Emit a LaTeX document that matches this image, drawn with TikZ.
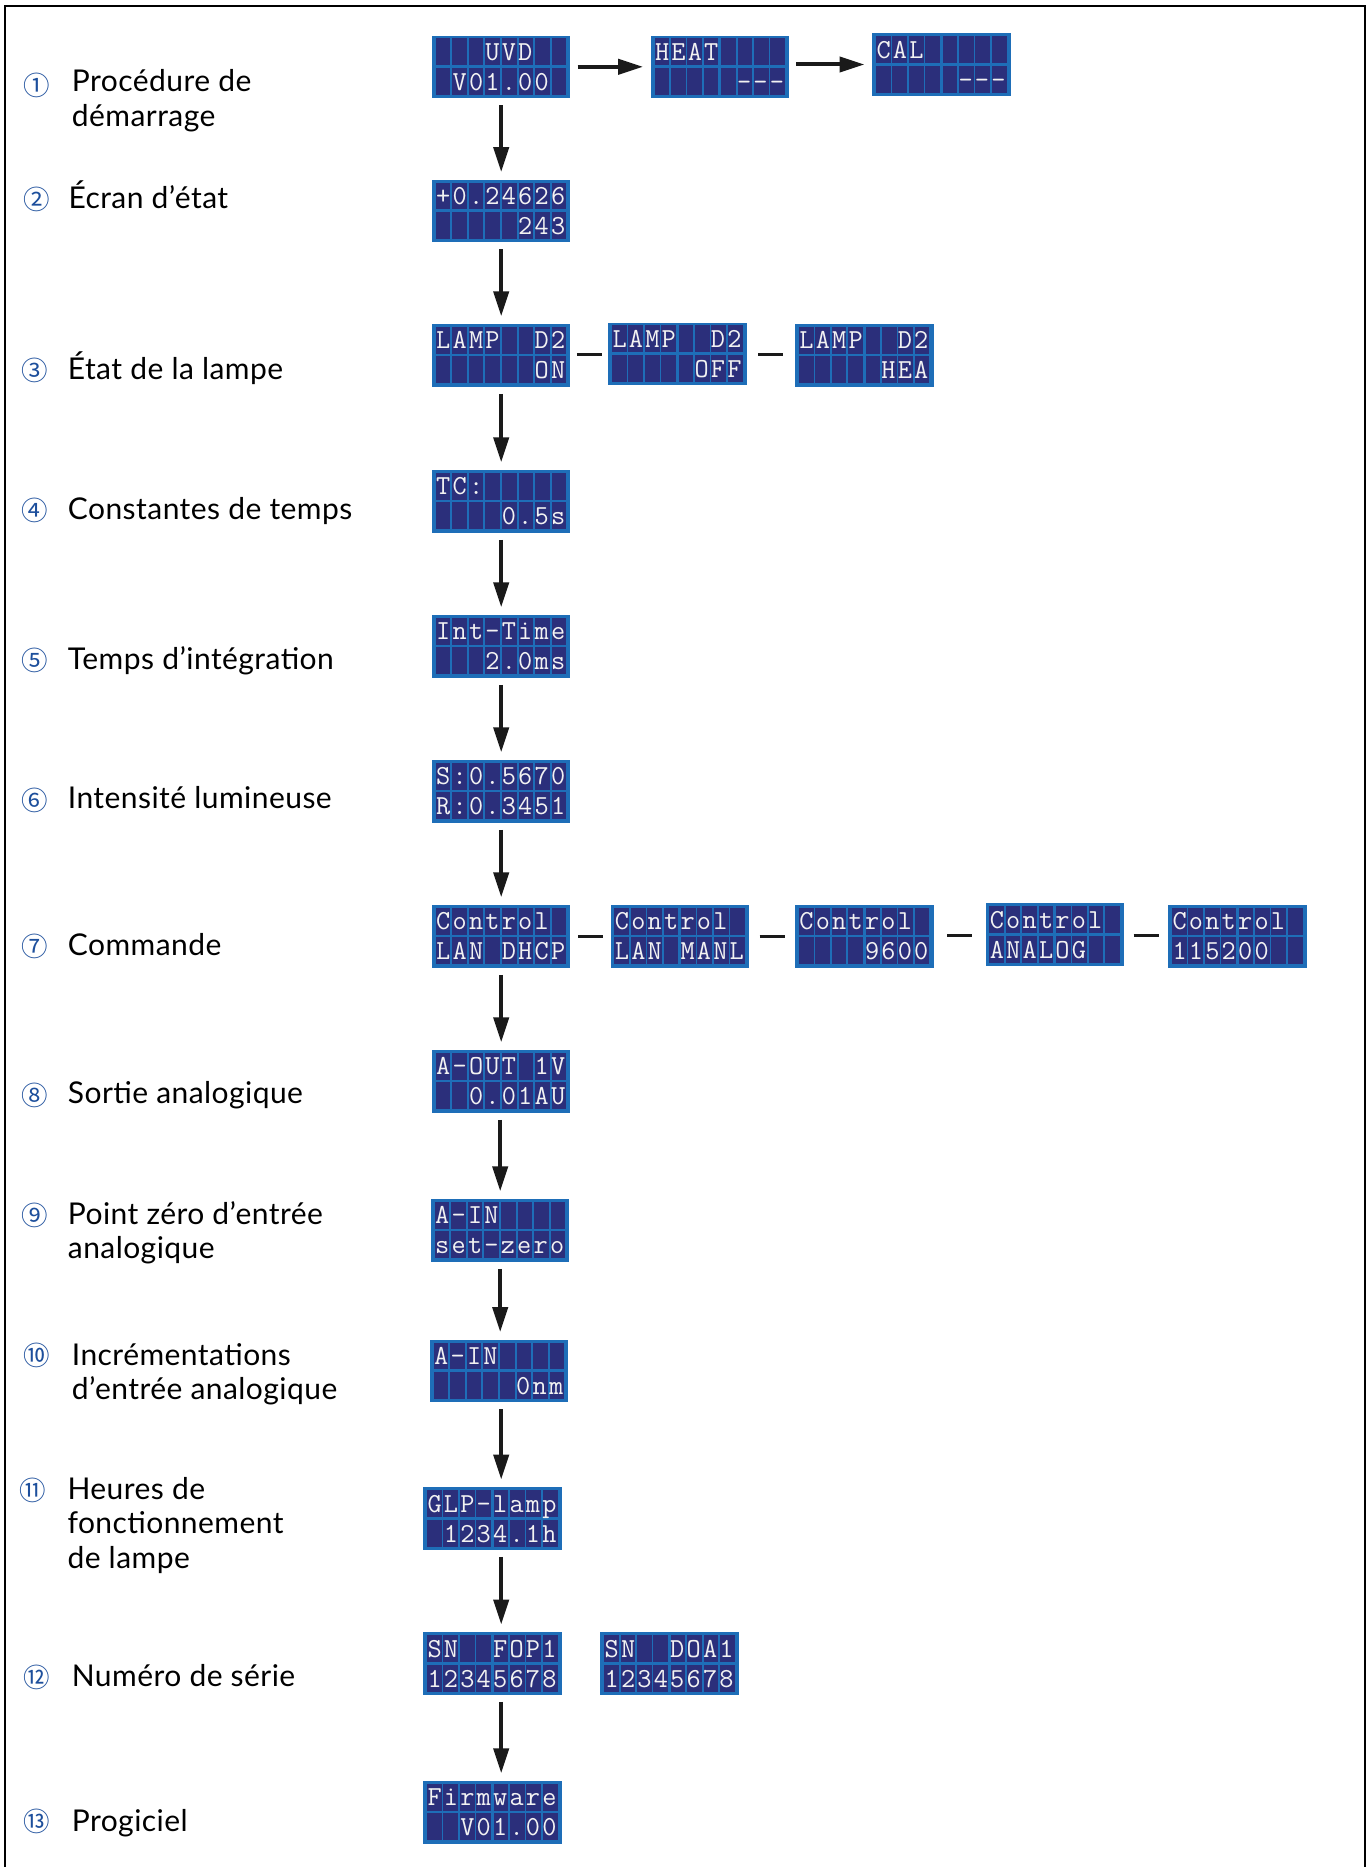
\documentclass[tikz,border=0pt]{standalone}
\usepackage{fontspec}
\setmainfont{Lato}[LetterSpace=1.5]
\newfontfamily\circfont{Noto Sans CJK SC}
\usetikzlibrary{arrows.meta,calc}
\definecolor{lcdblue}{HTML}{1E6EB8}
\definecolor{lcdnavy}{HTML}{2B2F7B}
\definecolor{lcdink}{HTML}{F2F2F2}
\definecolor{circblue}{HTML}{1D4F9C}
\definecolor{arrowink}{HTML}{1A1A1A}

\makeatletter
\newlength\lcdpitch \setlength\lcdpitch{16.4pt}
\newcommand\lcdstr[1]{\lcd@loop#1\@nil}
\def\lcd@loop#1{\ifx#1\@nil\else\lcd@char{#1}\expandafter\lcd@loop\fi}
\def\lcd@char#1{\makebox[\lcdpitch][c]{\if*#1\else#1\fi}}
\makeatother

\tikzset{
  lcdframe/.style={rectangle, fill=lcdblue, draw=none, inner sep=0pt,
    minimum width=138.5pt, minimum height=62.5pt},
  lcdtext/.style={anchor=base west, inner sep=0pt, text=lcdink,
    font=\ttfamily\fontsize{27.5}{27.5}\selectfont},
  arr/.style={draw=arrowink, line width=4pt, -{Triangle[length=25pt,width=15pt]},
    shorten <=7pt, shorten >=7.5pt},
  dashln/.style={draw=arrowink, line width=3.3pt},
  lbl/.style={anchor=base west, inner sep=0pt, text=black,
    font=\fontsize{30}{34.5}\selectfont, align=left},
  circ/.style={inner sep=0pt, text=circblue, font=\circfont\fontsize{26.5}{26.5}\selectfont},
  frameln/.style={draw=black, line width=2.5pt}
}

\newcommand\lcd[4]{%
  \node[lcdframe] (#1) at (#2) {};
  \foreach \i in {0,...,7}{\foreach \r in {0,1}{%
    \pgfmathsetmacro\lcdxo{4+\i*16.4+(\i>3?1:0)}%
    \fill[lcdnavy] ($(#1.north west)+(\lcdxo,3+\r*29.6)$) rectangle ++(14.7,26.9);}}
  \node[lcdtext] at ($(#1.north west)+(3.15,25)$) {\lcdstr{#3}};
  \node[lcdtext] at ($(#1.north west)+(3.15,55)$) {\lcdstr{#4}};
}

\begin{document}
\begin{tikzpicture}[x=1pt,y=-1pt]
\useasboundingbox (0,0) rectangle (1370,1867);
\fill[white] (0,0) rectangle (1370,1867);
\draw[frameln] (5.2,1867) -- (5.2,6.2) -- (1365,6.2) -- (1365,1867);

% displays
\lcd{d1}{501.2,66.8}{***UVD}{*V01.00}
\lcd{d1b}{720,66.8}{HEAT}{*****---}
\lcd{d1c}{941.5,64.5}{CAL}{*****---}
\lcd{d2}{501.2,211}{+0.24626}{*****243}
\lcd{d3}{501.2,355.3}{LAMP**D2}{******ON}
\lcd{d3b}{677.5,353.8}{LAMP**D2}{*****OFF}
\lcd{d3c}{864.4,355.3}{LAMP**D2}{*****HEA}
\lcd{d4}{501.2,501.3}{TC:}{****0.5s}
\lcd{d5}{501.2,646.3}{Int-Time}{***2.0ms}
\lcd{d6}{501.2,791.3}{S:0.5670}{R:0.3451}
\lcd{d7}{501.2,936.3}{Control}{LAN*DHCP}
\lcd{d7b}{679.9,936.3}{Control}{LAN*MANL}
\lcd{d7c}{864.4,936.3}{Control}{****9600}
\lcd{d7d}{1054.8,934.6}{Control}{ANALOG}
\lcd{d7e}{1237.5,936.3}{Control}{115200}
\lcd{d8}{501.2,1081.3}{A-OUT*1V}{**0.01AU}
\lcd{d9}{500.2,1230.3}{A-IN}{set-zero}
\lcd{d10}{499.2,1371}{A-IN}{*****0nm}
\lcd{d11}{492.5,1518.5}{GLP-lamp}{*1234.1h}
\lcd{d12}{492.5,1663.5}{SN**FOP1}{12345678}
\lcd{d12b}{669.6,1663.5}{SN**DOA1}{12345678}
\lcd{d13}{492.5,1812.3}{Firmware}{**V01.00}

% connectors
\draw[arr] (d1.east) -- (d1b.west);
\draw[arr] (d1b.east |- d1c.west) -- (d1c.west);
\draw[arr] (d1.south) -- (d2.north);
\draw[arr] (d2.south) -- (d3.north);
\draw[arr] (d3.south) -- (d4.north);
\draw[arr] (d4.south) -- (d5.north);
\draw[arr] (d5.south) -- (d6.north);
\draw[arr] (d6.south) -- (d7.north);
\draw[arr] (d7.south) -- (d8.north);
\draw[arr] (d8.south -| d9.south) -- (d9.north);
\draw[arr] (d9.south) -- (d10.north -| d9.south);
\draw[arr] (d10.south -| d1.south) -- (d11.north -| d1.south);
\draw[arr] (d11.south -| d1.south) -- (d12.north -| d1.south);
\draw[arr] (d12.south -| d1.south) -- (d13.north -| d1.south);

\draw[dashln] ($(d3.east)!0.5!(d3b.west)+(-12.5,0)$) -- ++(25,0);
\draw[dashln] ($(d3b.east)!0.5!(d3c.west)+(-12.5,0)$) -- ++(25,0);
\draw[dashln] ($(d7.east)!0.5!(d7b.west)+(-12.5,0)$) -- ++(25,0);
\draw[dashln] ($(d7b.east)!0.5!(d7c.west)+(-12.5,0)$) -- ++(25,0);
\draw[dashln] ($(d7c.east)!0.5!(d7d.west)+(-12.5,0)$) -- ++(25,0);
\draw[dashln] ($(d7d.east)!0.5!(d7e.west)+(-12.5,0)$) -- ++(25,0);

% labels (multi-line labels are anchored at the baseline of their last line)
\node[circ] (c1) at (36.7,85.7) {①};
\node[lbl] (t1) at (71.7,126.2) {Procédure de\\démarrage};
\node[circ] (c2) at (36.7,199) {②};
\node[lbl] (t2) at (68.3,208.3) {Écran d’état};
\node[circ] (c3) at (34.7,370) {③};
\node[lbl] (t3) at (67.7,379.3) {État de la lampe};
\node[circ] (c4) at (34.7,510.7) {④};
\node[lbl] (t4) at (67.7,519.3) {Constantes de temps};
\node[circ] (c5) at (34.7,660) {⑤};
\node[lbl] (t5) at (67.7,669.3) {Temps d’intégration};
\node[circ] (c6) at (34.7,800) {⑥};
\node[lbl] (t6) at (67.7,808.3) {Intensité lumineuse};
\node[circ] (c7) at (34.7,946) {⑦};
\node[lbl] (t7) at (67.7,955) {Commande};
\node[circ] (c8) at (34.7,1095) {⑧};
\node[lbl] (t8) at (67.7,1103.3) {Sortie analogique};
\node[circ] (c9) at (34.7,1215) {⑨};
\node[lbl] (t9) at (67.7,1258.5) {Point zéro d’entrée\\analogique};
\node[circ] (c10) at (36.7,1355.7) {⑩};
\node[lbl] (t10) at (71.7,1399.5) {Incrémentations\\d’entrée analogique};
\node[circ] (c11) at (32.3,1490) {⑪};
\node[lbl] (t11) at (67.3,1568.3) {Heures de\\fonctionnement\\de lampe};
\node[circ] (c12) at (36.7,1677.3) {⑫};
\node[lbl] (t12) at (71.7,1686.7) {Numéro de série};
\node[circ] (c13) at (36.7,1821.7) {⑬};
\node[lbl] (t13) at (71.7,1831) {Progiciel};
\end{tikzpicture}
\end{document}
